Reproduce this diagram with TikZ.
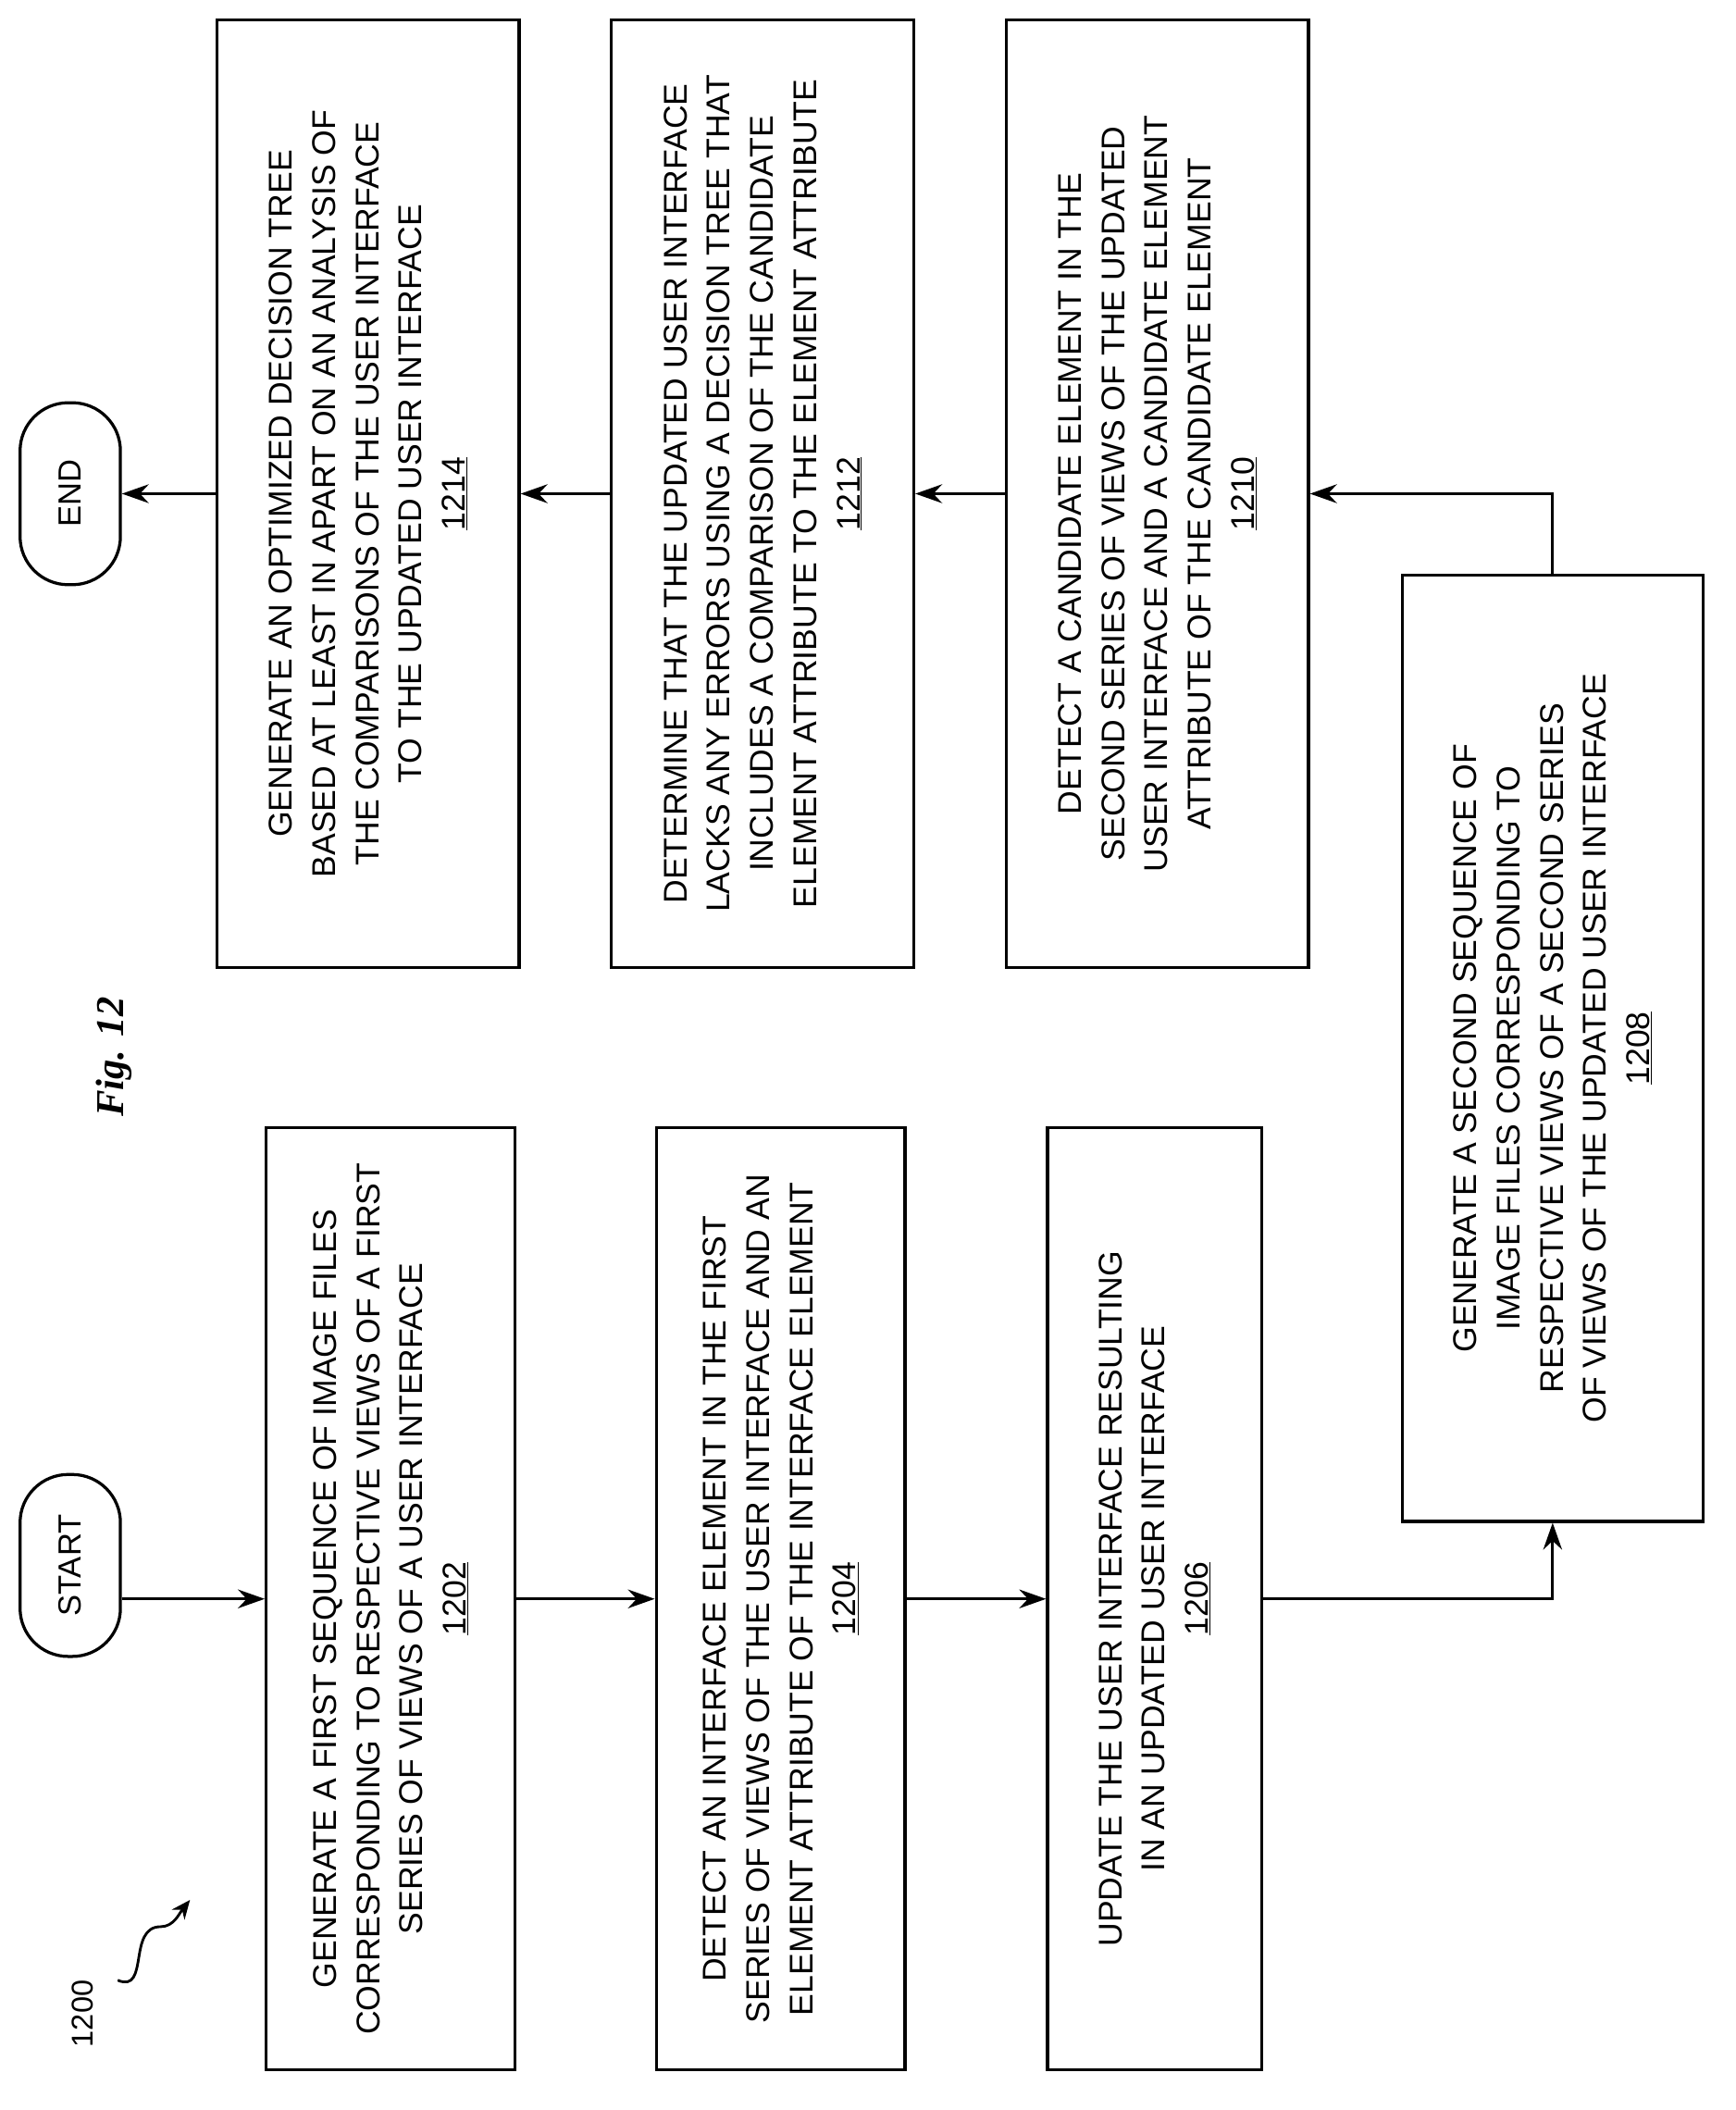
\documentclass[tikz,border=0pt]{standalone}
\usepackage{fontspec}
\setmainfont{Liberation Sans}
\newfontfamily\figfont{Liberation Serif}
\usetikzlibrary{arrows.meta}
\begin{document}
\begin{tikzpicture}[x=0.5mm,y=-0.5mm,
  box/.style={draw,line width=3.2pt,rotate=90,align=center,inner sep=0pt,font=\fontsize{35}{46}\selectfont},
  term/.style={draw,line width=3.2pt,rotate=90,rounded corners=18mm,minimum width=68mm,minimum height=37.5mm,font=\fontsize{34}{40}\selectfont},
  arr/.style={line width=3.2pt,-{Stealth[length=10mm,width=7mm]}}]
\useasboundingbox (0,0) rectangle (1297,1577);
\node[box,minimum width=354mm,minimum height=113mm] (n1214) at (275,369) {GENERATE AN OPTIMIZED DECISION TREE\\BASED AT LEAST IN APART ON AN ANALYSIS OF\\THE COMPARISONS OF THE USER INTERFACE\\TO THE UPDATED USER INTERFACE\\\underline{1214}};
\node[box,minimum width=354mm,minimum height=113mm] (n1212) at (570,369) {DETERMINE THAT THE UPDATED USER INTERFACE\\LACKS ANY ERRORS USING A DECISION TREE THAT\\INCLUDES A COMPARISON OF THE CANDIDATE\\ELEMENT ATTRIBUTE TO THE ELEMENT ATTRIBUTE\\\underline{1212}};
\node[box,minimum width=354mm,minimum height=113mm] (n1210) at (865,369) {DETECT A CANDIDATE ELEMENT IN THE\\SECOND SERIES OF VIEWS OF THE UPDATED\\USER INTERFACE AND A CANDIDATE ELEMENT\\ATTRIBUTE OF THE CANDIDATE ELEMENT\\\underline{1210}};
\node[box,minimum width=353.5mm,minimum height=112.5mm] (n1208) at (1160.5,783.5) {GENERATE A SECOND SEQUENCE OF\\IMAGE FILES CORRESPONDING TO\\RESPECTIVE VIEWS OF A SECOND SERIES\\OF VIEWS OF THE UPDATED USER INTERFACE\\\underline{1208}};
\node[box,minimum width=352mm,minimum height=93mm] (n1202) at (292,1195) {GENERATE A FIRST SEQUENCE OF IMAGE FILES\\CORRESPONDING TO RESPECTIVE VIEWS OF A FIRST\\SERIES OF VIEWS OF A USER INTERFACE\\\underline{1202}};
\node[box,minimum width=352mm,minimum height=93mm] (n1204) at (583.5,1195) {DETECT AN INTERFACE ELEMENT IN THE FIRST\\SERIES OF VIEWS OF THE USER INTERFACE AND AN\\ELEMENT ATTRIBUTE OF THE INTERFACE ELEMENT\\\underline{1204}};
\node[box,minimum width=352mm,minimum height=80mm] (n1206) at (863,1195) {UPDATE THE USER INTERFACE RESULTING\\IN AN UPDATED USER INTERFACE\\\underline{1206}};
\node[term] (start) at (52.5,1170) {START};
\node[term] (end) at (52.5,369) {END};
\node[rotate=90,font=\figfont\bfseries\itshape\fontsize{42}{48}\selectfont] (fig) at (85,790) {Fig. 12};
\node[rotate=90,font=\fontsize{32}{36}\selectfont] (lbl) at (62,1505) {1200};
\coordinate (sq) at (142,1420);
\draw[line width=2.8pt,-{Stealth[length=7mm,width=6mm]}] (88,1480) .. controls (112,1490) and (95,1440) .. (120,1440) .. controls (130,1440) and (134,1430) .. (sq);
\draw[arr] (start.south |- n1202.center) -- (n1202);
\draw[arr] (n1202) -- (n1204);
\draw[arr] (n1204) -- (n1206);
\draw[arr] (n1206) -| (n1208);
\draw[arr] (n1208) |- (n1210);
\draw[arr] (n1210) -- (n1212);
\draw[arr] (n1212) -- (n1214);
\draw[arr] (n1214) -- (end);
\end{tikzpicture}
\end{document}
